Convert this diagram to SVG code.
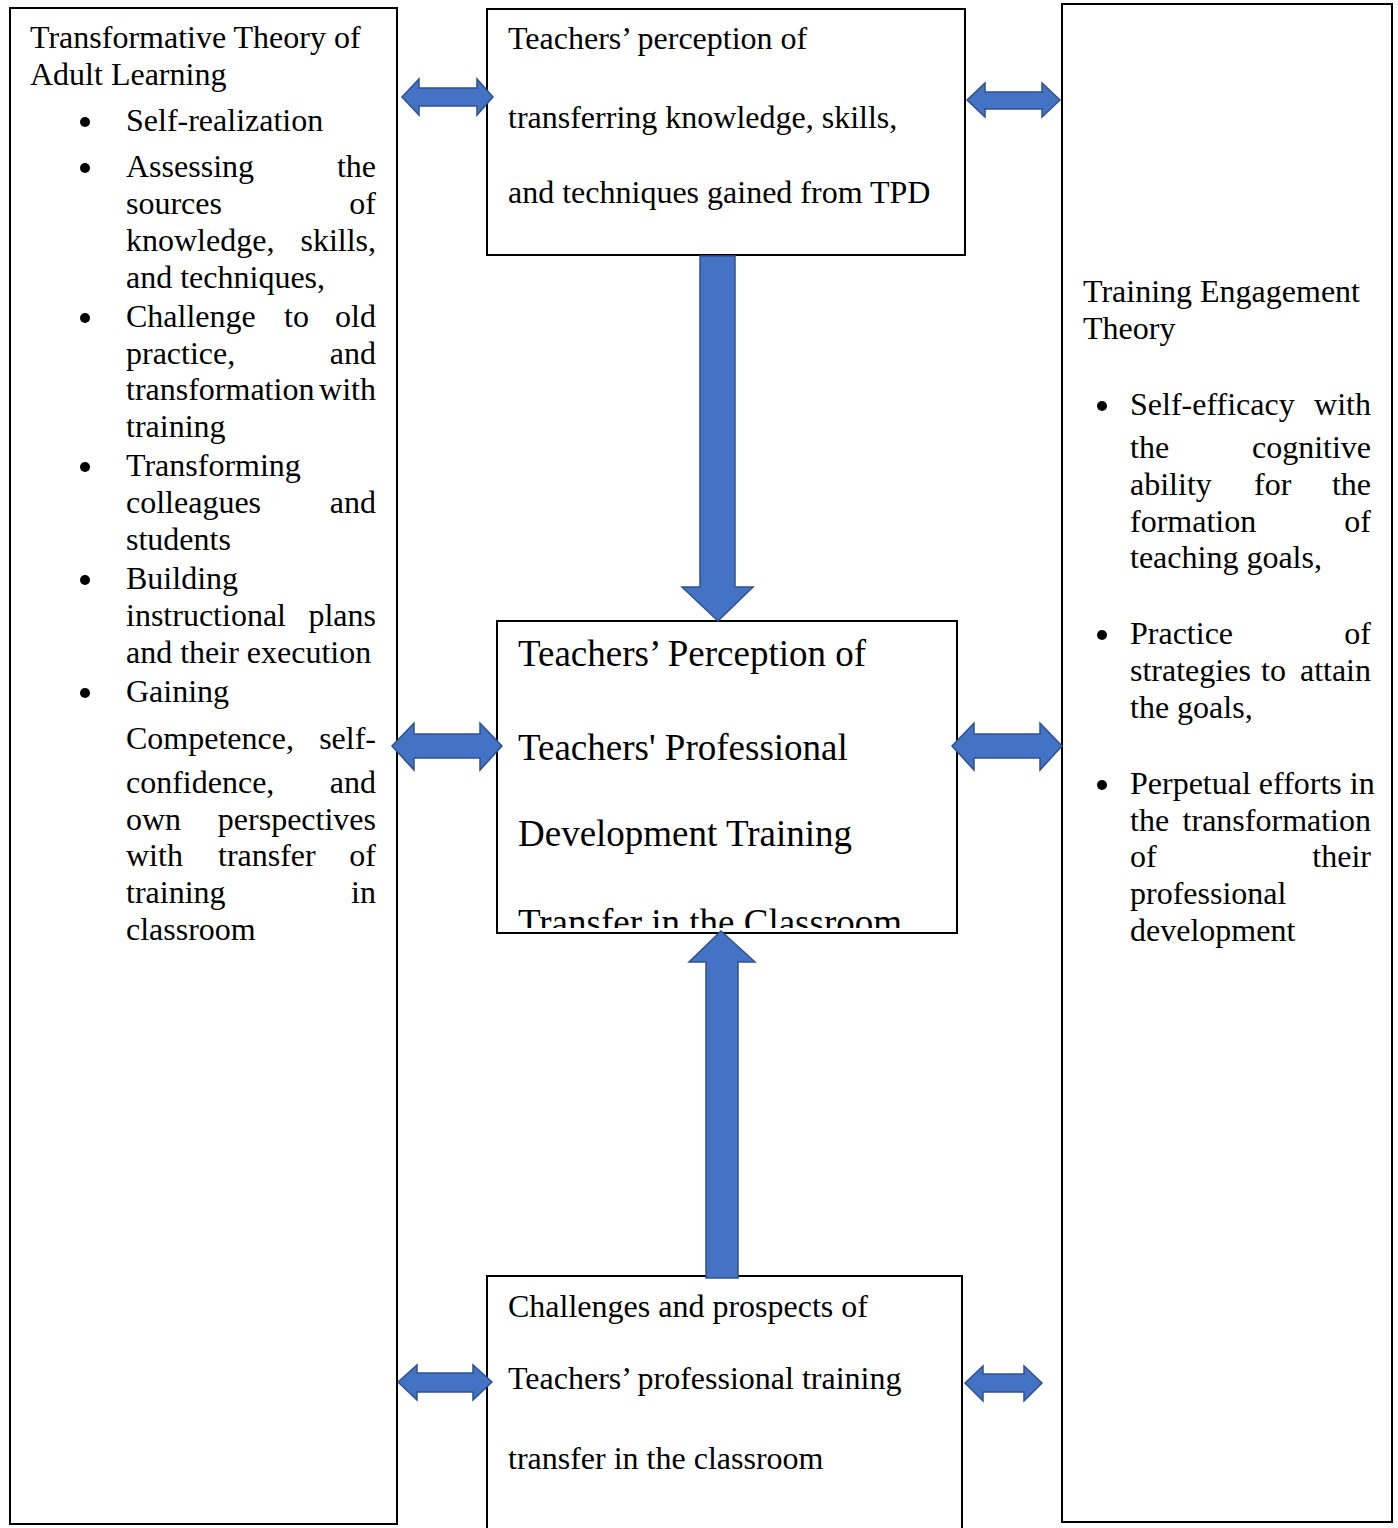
<svg xmlns="http://www.w3.org/2000/svg" width="1398" height="1528" viewBox="0 0 1398 1528">
<style>
  .box{fill:#fff;stroke:#000;stroke-width:2}
  .t{font-family:"Liberation Serif","Times New Roman",serif;font-size:32px;fill:#000}
  .big{font-family:"Liberation Serif","Times New Roman",serif;font-size:37px;fill:#000}
  .e{text-anchor:end}
  .arr{fill:#4472C4;stroke:#2F528F;stroke-width:1.5}
  .dot{fill:#000}
</style>
<defs>
  <clipPath id="midclip"><rect x="497" y="621" width="460" height="307"/></clipPath>
</defs>
<rect width="1398" height="1528" fill="#fff"/>

<g id="left-theory">
  <rect class="box" x="10" y="8" width="387" height="1516"/>
  <text class="t" x="30" y="48">Transformative Theory of</text>
  <text class="t" x="30" y="85">Adult Learning</text>
  <circle class="dot" cx="85" cy="122" r="5"/>
  <text class="t" x="126" y="131">Self-realization</text>
  <circle class="dot" cx="85" cy="168" r="5"/>
  <text class="t" x="126" y="177">Assessing</text><text class="t e" x="376" y="177">the</text>
  <text class="t" x="126" y="214">sources</text><text class="t e" x="376" y="214">of</text>
  <text class="t" x="126" y="251">knowledge,</text><text class="t e" x="376" y="251">skills,</text>
  <text class="t" x="126" y="288">and techniques,</text>
  <circle class="dot" cx="85" cy="318" r="5"/>
  <text class="t" x="126" y="327">Challenge</text><text class="t" x="284" y="327">to</text><text class="t e" x="376" y="327">old</text>
  <text class="t" x="126" y="364">practice,</text><text class="t e" x="376" y="364">and</text>
  <text class="t" x="126" y="400">transformation</text><text class="t e" x="376" y="400">with</text>
  <text class="t" x="126" y="437">training</text>
  <circle class="dot" cx="85" cy="467" r="5"/>
  <text class="t" x="126" y="476">Transforming</text>
  <text class="t" x="126" y="513">colleagues</text><text class="t e" x="376" y="513">and</text>
  <text class="t" x="126" y="550">students</text>
  <circle class="dot" cx="85" cy="580" r="5"/>
  <text class="t" x="126" y="589">Building</text>
  <text class="t" x="126" y="626">instructional</text><text class="t e" x="376" y="626">plans</text>
  <text class="t" x="126" y="663">and their execution</text>
  <circle class="dot" cx="85" cy="693" r="5"/>
  <text class="t" x="126" y="702">Gaining</text>
  <text class="t" x="126" y="749">Competence,</text><text class="t e" x="376" y="749">self-</text>
  <text class="t" x="126" y="793">confidence,</text><text class="t e" x="376" y="793">and</text>
  <text class="t" x="126" y="830">own</text><text class="t e" x="376" y="830">perspectives</text>
  <text class="t" x="126" y="866">with</text><text class="t" x="218" y="866">transfer</text><text class="t e" x="376" y="866">of</text>
  <text class="t" x="126" y="903">training</text><text class="t e" x="376" y="903">in</text>
  <text class="t" x="126" y="940">classroom</text>
</g>

<g id="top-perception">
  <rect class="box" x="487" y="9" width="478" height="246"/>
  <text class="t" x="508" y="49">Teachers’ perception of</text>
  <text class="t" x="508" y="128">transferring knowledge, skills,</text>
  <text class="t" x="508" y="203">and techniques gained from TPD</text>
</g>

<g id="middle-perception">
  <rect class="box" x="497" y="621" width="460" height="312"/>
  <g clip-path="url(#midclip)">
    <text class="big" x="518" y="666">Teachers’ Perception of</text>
    <text class="big" x="518" y="760">Teachers' Professional</text>
    <text class="big" x="518" y="846">Development Training</text>
    <text class="big" x="518" y="935">Transfer in the Classroom</text>
  </g>
</g>

<g id="bottom-challenges">
  <rect class="box" x="487" y="1276" width="475" height="262"/>
  <text class="t" x="508" y="1317">Challenges and prospects of</text>
  <text class="t" x="508" y="1389">Teachers’ professional training</text>
  <text class="t" x="508" y="1469">transfer in the classroom</text>
</g>

<g id="right-theory">
  <rect class="box" x="1062" y="4" width="330" height="1518"/>
  <text class="t" x="1083" y="302">Training Engagement</text>
  <text class="t" x="1083" y="339">Theory</text>
  <circle class="dot" cx="1102" cy="406" r="5"/>
  <text class="t" x="1130" y="415">Self-efficacy</text><text class="t e" x="1371" y="415">with</text>
  <text class="t" x="1130" y="458">the</text><text class="t e" x="1371" y="458">cognitive</text>
  <text class="t" x="1130" y="495">ability</text><text class="t" x="1254" y="495">for</text><text class="t e" x="1371" y="495">the</text>
  <text class="t" x="1130" y="532">formation</text><text class="t e" x="1371" y="532">of</text>
  <text class="t" x="1130" y="568">teaching goals,</text>
  <circle class="dot" cx="1102" cy="635" r="5"/>
  <text class="t" x="1130" y="644">Practice</text><text class="t e" x="1371" y="644">of</text>
  <text class="t" x="1130" y="681">strategies</text><text class="t" x="1261" y="681">to</text><text class="t e" x="1371" y="681">attain</text>
  <text class="t" x="1130" y="718">the goals,</text>
  <circle class="dot" cx="1102" cy="785" r="5"/>
  <text class="t" x="1130" y="794">Perpetual efforts in</text>
  <text class="t" x="1130" y="831">the</text><text class="t e" x="1371" y="831">transformation</text>
  <text class="t" x="1130" y="867">of</text><text class="t e" x="1371" y="867">their</text>
  <text class="t" x="1130" y="904">professional</text>
  <text class="t" x="1130" y="941">development</text>
</g>

<g id="connectors">
  <polygon class="arr" points="402,97 419,79 419,88 477,88 477,79 493,97 477,115 477,106 419,106 419,115"/>
  <polygon class="arr" points="967,100 985,83 985,92 1042,92 1042,83 1060,100 1042,117 1042,109 985,109 985,117"/>
  <polygon class="arr" points="392,746 414,723 414,734 480,734 480,723 502,746 480,770 480,758 414,758 414,770"/>
  <polygon class="arr" points="952,746 974,723 974,734 1040,734 1040,723 1062,746 1040,770 1040,758 974,758 974,770"/>
  <polygon class="arr" points="398,1382 417,1365 417,1373 473,1373 473,1365 492,1382 473,1400 473,1392 417,1392 417,1400"/>
  <polygon class="arr" points="965,1383 983,1366 983,1374 1024,1374 1024,1366 1042,1383 1024,1401 1024,1392 983,1392 983,1401"/>
  <polygon class="arr" points="700,256 735,256 735,587 753,587 718,621 682,587 700,587"/>
  <polygon class="arr" points="721,931 755,962 738,962 738,1278 706,1278 706,962 689,962"/>
</g>
</svg>
